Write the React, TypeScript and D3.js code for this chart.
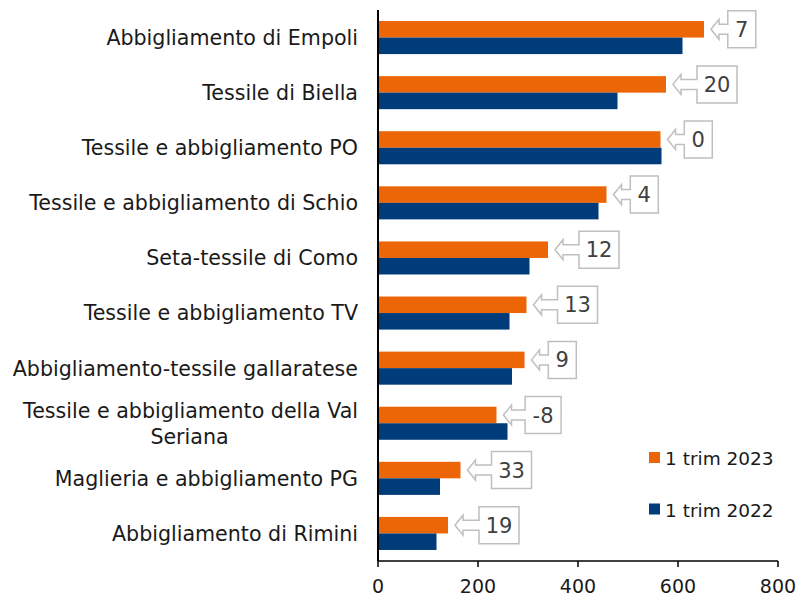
import React from "react";
import * as d3 from "d3";

const categories: string[][] = [
  ["Abbigliamento di Empoli"],
  ["Tessile di Biella"],
  ["Tessile e abbigliamento PO"],
  ["Tessile e abbigliamento di Schio"],
  ["Seta-tessile di Como"],
  ["Tessile e abbigliamento TV"],
  ["Abbigliamento-tessile gallaratese"],
  ["Tessile e abbigliamento della Val", "Seriana"],
  ["Maglieria e abbigliamento PG"],
  ["Abbigliamento di Rimini"],
];
const values2023 = [652, 576, 565, 457, 340, 297, 293, 237, 165, 140];
const values2022 = [609, 479, 567, 441, 303, 263, 268, 259, 124, 117];
const changeLabels = ["7", "20", "0", "4", "12", "13", "9", "-8", "33", "19"];
const xTicks = [0, 200, 400, 600, 800];
const seriesNames = ["1 trim 2023", "1 trim 2022"];

const ORANGE = "#EC6608";
const BLUE = "#003B7A";
const FONT = "'DejaVu Sans', sans-serif";

export default function App() {
  const W = 798, H = 596;
  const x0 = 378, x1 = 778, yTop = 10, yBot = 561;
  const x = d3.scaleLinear().domain([0, 800]).range([x0, x1]);
  const y = d3.scaleBand<number>().domain(d3.range(categories.length)).range([yTop, yBot]).paddingInner(0.4).paddingOuter(0.2);
  const bw = y.bandwidth() / 2;

  const callout = (i: number) => {
    const label = changeLabels[i];
    const tx = x(values2023[i]) + 7;
    const cy = (y(i) as number) + bw / 2;
    const digits = label.replace("-", "").length;
    const minus = label.includes("-") ? 1 : 0;
    const boxW = 16 + digits * 12 + minus * 8;
    const arrowLen = boxW * 0.6;
    const bx = tx + arrowLen;
    const h = 37;
    const p = d3.path();
    p.moveTo(bx, cy - h / 2);
    p.lineTo(bx + boxW, cy - h / 2);
    p.lineTo(bx + boxW, cy + h / 2);
    p.lineTo(bx, cy + h / 2);
    p.lineTo(bx, cy + 5);
    p.lineTo(tx + 8, cy + 5);
    p.lineTo(tx + 8, cy + 10);
    p.lineTo(tx, cy);
    p.lineTo(tx + 8, cy - 10);
    p.lineTo(tx + 8, cy - 5);
    p.lineTo(bx, cy - 5);
    p.closePath();
    return (
      <g key={"c" + i}>
        <path d={p.toString()} fill="#fff" stroke="#BFBFBF" strokeWidth={1.5} />
        <text x={bx + boxW / 2} y={cy} dy="0.36em" textAnchor="middle" fontSize={21} fill="#404040" fontFamily={FONT}>
          {label}
        </text>
      </g>
    );
  };

  return (
    <svg width={W} height={H} style={{ position: "absolute", left: 0, top: 0, background: "#fff" }}>
      {categories.map((c, i) => {
        const yy = y(i) as number;
        return (
          <g key={i}>
            <rect x={x(0)} y={yy} width={x(values2023[i]) - x(0)} height={bw} fill={ORANGE} />
            <rect x={x(0)} y={yy + bw} width={x(values2022[i]) - x(0)} height={bw} fill={BLUE} />
          </g>
        );
      })}
      {categories.map((c, i) => {
        const cy = (y(i) as number) + y.bandwidth() / 2;
        const lh = 26;
        const start = cy - ((c.length - 1) * lh) / 2;
        return (
          <text key={"l" + i} fontSize={20.6} fill="#1a1a1a" fontFamily={FONT}>
            {c.map((line, j) => (
              <tspan key={j} x={j > 0 ? 358 - 168.5 : 358} y={start + j * lh} dy="0.36em"
                textAnchor={j > 0 ? "middle" : "end"}>
                {line}
              </tspan>
            ))}
          </text>
        );
      })}
      {categories.map((_, i) => callout(i))}
      <line x1={x0} x2={x0} y1={yTop} y2={yBot} stroke="#000" strokeWidth={2} />
      <line x1={x0} x2={x1} y1={yBot} y2={yBot} stroke="#000" strokeWidth={1.5} />
      {xTicks.map((t) => (
        <g key={"t" + t}>
          <line x1={x(t)} x2={x(t)} y1={yBot} y2={yBot + 6} stroke="#000" strokeWidth={1.5} />
          <text x={x(t)} y={593} textAnchor="middle" fontSize={19} fill="#1a1a1a" fontFamily={FONT}>{t}</text>
        </g>
      ))}
      {seriesNames.map((s, k) => (
        <g key={"lg" + k}>
          <rect x={649} y={452 + k * 51.5} width={11} height={11} fill={k === 0 ? ORANGE : BLUE} />
          <text x={665} y={465 + k * 51.5} fontSize={18.5} fill="#1a1a1a" fontFamily={FONT}>{s}</text>
        </g>
      ))}
    </svg>
  );
}
